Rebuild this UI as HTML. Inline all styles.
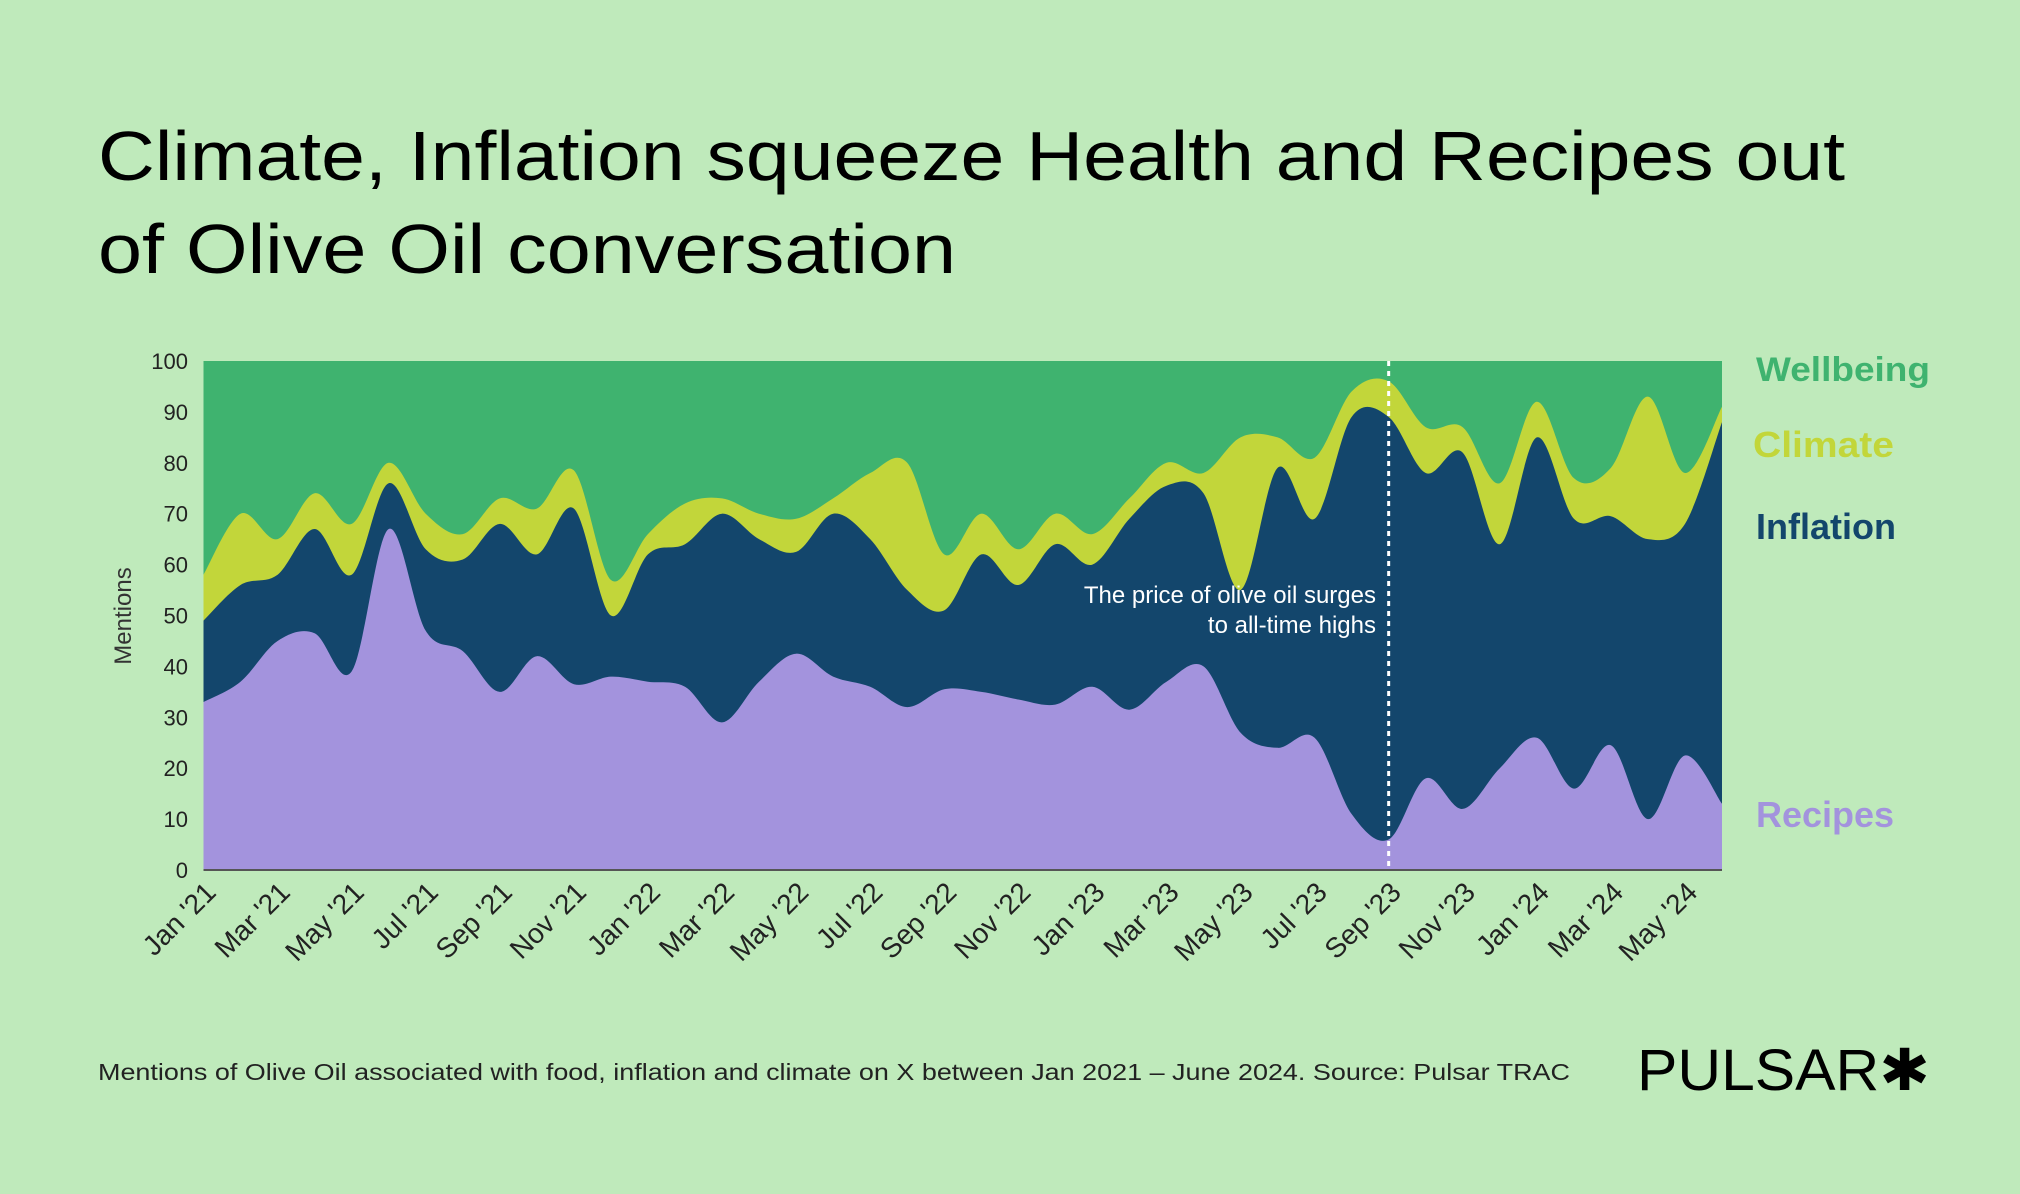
<!DOCTYPE html>
<html><head><meta charset="utf-8"><style>
html,body{margin:0;padding:0;background:#bfeabb;}
svg{display:block;font-family:"Liberation Sans",sans-serif;}
</style></head><body>
<svg id="s" width="2020" height="1194" viewBox="0 0 2020 1194" xmlns="http://www.w3.org/2000/svg">
<rect width="2020" height="1194" fill="#bfeabb"/>
<text x="98" y="180" font-size="70" fill="#000" textLength="1747" lengthAdjust="spacingAndGlyphs">Climate, Inflation squeeze Health and Recipes out</text>
<text x="98" y="273" font-size="70" fill="#000" textLength="858" lengthAdjust="spacingAndGlyphs">of Olive Oil conversation</text>
<g id="plot"></g>
<text x="1756" y="381" font-size="34" fill="#3fb36f" font-weight="bold" textLength="174" lengthAdjust="spacingAndGlyphs">Wellbeing</text>
<text x="1753" y="457" font-size="36" fill="#c2d63a" font-weight="bold" textLength="141" lengthAdjust="spacingAndGlyphs">Climate</text>
<text x="1756" y="539" font-size="36" fill="#13466c" font-weight="bold" textLength="140" lengthAdjust="spacingAndGlyphs">Inflation</text>
<text x="1756" y="827" font-size="36" fill="#a393dd" font-weight="bold" textLength="138" lengthAdjust="spacingAndGlyphs">Recipes</text>
<text x="98" y="1080" font-size="23" fill="#222" textLength="1472" lengthAdjust="spacingAndGlyphs">Mentions of Olive Oil associated with food, inflation and climate on X between Jan 2021 – June 2024. Source: Pulsar TRAC</text>
<text x="1637" y="1090" font-size="58" fill="#000" textLength="293" lengthAdjust="spacingAndGlyphs">PULSAR✱</text>
</svg>
<script>
var R=[33,37,45,46.5,39,67,47,43,35,42,36.5,38,37,36,29,37,42.5,38,36,32,35.5,35,33.5,32.5,36,31.5,37,40,27,24,26,11,6,18,12,20,26,16,24.5,10,22.5,13];
var I=[49,56,58,67,58,76,63,61,68,62,71,50,62,64,70,65,62.5,70,65,55,51,62,56,64,60,69,75.5,74,55,79,69,89,89,78,82,64,85,69,69.5,65,68,88];
var C=[58,70,65,74,68,80,70,66,73,71,78.5,57,66,72,73,70,69,73,78,80,62,70,63,70,66,73,80,78,85,85,81,94,96,87,87,76,92,77,79,93,78,91];
var L=203.5,Rt=1722,T=361,B=870,n=42,st=(Rt-L)/(n-1);
function X(i){return L+st*i}function Y(v){return B-(B-T)*v/100}
function curve(a){var p=a.map(function(v,i){return [X(i),Y(v)]});var d="L"+p[0][0].toFixed(1)+","+p[0][1].toFixed(1);
for(var i=0;i<p.length-1;i++){var p0=p[i>0?i-1:i],p1=p[i],p2=p[i+1],p3=p[i+2<p.length?i+2:i+1];var t=6;
d+="C"+(p1[0]+(p2[0]-p0[0])/t).toFixed(1)+","+(p1[1]+(p2[1]-p0[1])/t).toFixed(1)+" "+(p2[0]-(p3[0]-p1[0])/t).toFixed(1)+","+(p2[1]-(p3[1]-p1[1])/t).toFixed(1)+" "+p2[0].toFixed(1)+","+p2[1].toFixed(1);}return d;}
function area(a,col){return '<path d="M'+L+','+B+curve(a)+'L'+Rt+','+B+'Z" fill="'+col+'"/>';}
var h='<rect x="'+L+'" y="'+T+'" width="'+(Rt-L)+'" height="'+(B-T)+'" fill="#3fb36f"/>';
h+=area(C,"#c2d63a")+area(I,"#13466c")+area(R,"#a393dd");
h+='<line x1="'+L+'" y1="'+B+'" x2="'+Rt+'" y2="'+B+'" stroke="#555" stroke-width="2"/>';
var dx=X(32);h+='<line x1="'+dx+'" y1="'+T+'" x2="'+dx+'" y2="'+B+'" stroke="#fff" stroke-width="3" stroke-dasharray="5,5"/>';
h+='<text x="1376" y="603" font-size="24" fill="#fff" text-anchor="end">The price of olive oil surges</text><text x="1376" y="633" font-size="24" fill="#fff" text-anchor="end">to all-time highs</text>';
for(var v=0;v<=100;v+=10){h+='<text x="188" y="'+(Y(v)+8)+'" font-size="22" fill="#222" text-anchor="end">'+v+'</text>';}
h+='<text transform="translate(131,616) rotate(-90)" font-size="24" fill="#333" text-anchor="middle">Mentions</text>';
var m=["Jan","Mar","May","Jul","Sep","Nov"];
for(var i=0;i<42;i+=2){var yr=21+Math.floor(i/12);var lab=m[(i%12)/2]+" '"+yr;var x=X(i)+14,y=894;
h+='<text transform="translate('+x.toFixed(1)+','+y+') rotate(-45)" font-size="28" fill="#222" text-anchor="end">'+lab+'</text>';}
document.getElementById("plot").innerHTML=h;
</script>
</body></html>
